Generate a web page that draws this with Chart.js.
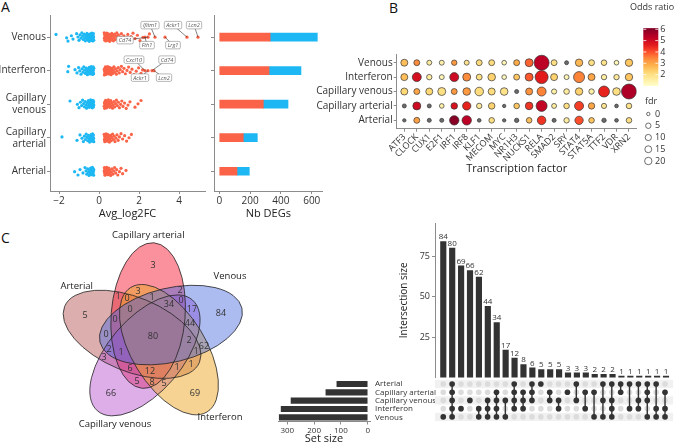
<!DOCTYPE html>
<html>
<head>
<meta charset="utf-8">
<script src="https://cdn.jsdelivr.net/npm/chart.js@4.4.1/dist/chart.umd.min.js"></script>
<style>
  html, body { margin: 0; padding: 0; background: #fff; }
  body { position: relative; width: 677px; height: 445px; overflow: hidden; font-family: 'Open Sans', sans-serif; }
  canvas { position: absolute; }
  .tag { position: absolute; font-size: 14px; color: #111; line-height: 1; }
</style>
</head>
<body>
<div class="tag" style="left:1px;top:0px">A</div>
<div class="tag" style="left:389px;top:1px">B</div>
<div class="tag" style="left:1px;top:231px">C</div>
<script>
// ---------- panel A : DE genes ----------
const deRows = ['Venous', 'Interferon', 'Capillary venous', 'Capillary arterial', 'Arterial'];
const deRowLabels = ['Venous', 'Interferon', ['Capillary', 'venous'], ['Capillary', 'arterial'], 'Arterial'];
const nbUp = [330, 323, 286, 156, 115];
const nbDown = [306, 207, 160, 91, 80];

const fcUpVenous = [0.26,0.27,0.28,0.29,0.3,0.31,0.32,0.33,0.34,0.35,0.36,0.37,0.38,0.39,0.41,0.42,0.44,0.45,0.47,0.49,0.51,0.53,0.55,0.57,0.59,0.61,0.64,0.66,0.69,0.72,0.75,0.78,0.81,0.85,0.89,0.93,0.97,1.02,1.07,1.12,1.18,1.24,1.3,1.37,1.44,1.52,1.6,1.7,1.8,1.92,2.05,2.2,2.52];
const fcDownVenous = [-0.26,-0.27,-0.28,-0.29,-0.3,-0.31,-0.32,-0.33,-0.34,-0.35,-0.36,-0.37,-0.39,-0.4,-0.42,-0.43,-0.45,-0.47,-0.49,-0.51,-0.53,-0.55,-0.57,-0.6,-0.62,-0.65,-0.68,-0.71,-0.74,-0.78,-0.82,-0.86,-0.9,-0.95,-1.0,-1.05,-1.12,-1.3,-1.38,-1.55,-1.62,-2.15];
const fcUpInterferon = [0.26,0.27,0.28,0.29,0.3,0.31,0.32,0.33,0.34,0.35,0.37,0.38,0.4,0.41,0.43,0.45,0.47,0.49,0.51,0.53,0.55,0.58,0.6,0.63,0.66,0.69,0.72,0.75,0.79,0.83,0.87,0.91,0.96,1.01,1.06,1.12,1.18,1.25,1.32,1.4,1.48,1.56,1.65,1.75,1.86,1.98,2.1,2.18];
const fcDownInterferon = [-0.26,-0.27,-0.28,-0.29,-0.3,-0.31,-0.32,-0.33,-0.35,-0.36,-0.38,-0.39,-0.41,-0.43,-0.45,-0.47,-0.49,-0.52,-0.55,-0.58,-0.61,-0.64,-0.68,-0.72,-0.76,-0.8,-0.85,-0.9,-0.96,-1.02,-1.1,-1.2,-1.52,-1.56];
const fcUpCapVenous = [0.26,0.27,0.28,0.29,0.3,0.31,0.32,0.33,0.35,0.36,0.38,0.39,0.41,0.43,0.45,0.47,0.49,0.51,0.54,0.56,0.59,0.62,0.65,0.68,0.71,0.75,0.79,0.83,0.87,0.92,0.97,1.02,1.08,1.14,1.2,1.28,1.36,1.45,1.55,1.8,1.95,2.1];
const fcDownCapVenous = [-0.26,-0.27,-0.28,-0.29,-0.3,-0.31,-0.32,-0.34,-0.35,-0.37,-0.38,-0.4,-0.42,-0.44,-0.46,-0.48,-0.5,-0.53,-0.56,-0.59,-0.62,-0.65,-0.69,-0.73,-0.77,-0.82,-0.87,-0.93,-1.0,-1.08,-1.45];
const fcUpCapArterial = [0.26,0.27,0.28,0.29,0.3,0.31,0.33,0.34,0.36,0.37,0.39,0.41,0.43,0.45,0.47,0.5,0.52,0.55,0.58,0.61,0.64,0.68,0.72,0.76,0.8,0.85,0.9,0.96,1.02,1.1,1.18,1.28,1.38,1.5,1.62];
const fcDownCapArterial = [-0.26,-0.27,-0.28,-0.29,-0.3,-0.32,-0.33,-0.35,-0.36,-0.38,-0.4,-0.42,-0.44,-0.47,-0.5,-0.53,-0.56,-0.6,-0.64,-0.68,-0.73,-0.78,-0.85,-0.95,-1.1,-1.85];
const fcUpArterial = [0.26,0.27,0.28,0.29,0.3,0.31,0.33,0.34,0.36,0.38,0.4,0.42,0.44,0.46,0.49,0.52,0.55,0.58,0.61,0.65,0.69,0.73,0.78,0.83,0.88,0.94,1.02,1.1,1.18,1.35];
const fcDownArterial = [-0.26,-0.27,-0.28,-0.29,-0.3,-0.31,-0.33,-0.34,-0.36,-0.38,-0.4,-0.42,-0.44,-0.47,-0.5,-0.53,-0.57,-0.61,-0.65,-0.7,-0.8,-0.95,-1.05,-1.22];

// labelled genes (row index into deRows)
const geneNames = ['Ifitm1', 'Cd74', 'Fth1', 'Lrg1', 'Ackr1', 'Lcn2', 'Cxcl10', 'Ackr1', 'Cd74', 'Lcn2'];
const geneRows = [0, 0, 0, 0, 0, 0, 1, 1, 1, 1];
const geneFC = [2.8, 2.45, 2.3, 3.3, 4.4, 4.95, 2.3, 2.45, 2.65, 2.75];
// label box offsets in px (layout only)
const geneBoxOffset = [[-5, -12], [-23, 3], [2, 8], [8, 8], [-14, -12], [-4, -12], [-11, -11], [-8, 7], [15, -11], [10, 7]];

// ---------- panel B : transcription factors ----------
const tfNames = ['ATF3','CLOCK','CUX1','E2F1','IRF1','IRF8','KLF1','MECOM','MYC','NR1H3','NUCKS1','RELA','SMAD2','SRY','STAT4','STAT5A','TTF2','VDR','XRN2'];
const tfRows = ['Venous', 'Interferon', 'Capillary venous', 'Capillary arterial', 'Arterial'];
const oddsVenous = [2.6,3.4,1.6,1.5,3.2,1.9,2.1,2.1,1.3,2.9,3.8,5.3,2.0,null,2.7,2.0,1.9,1.3,2.5];
const fdrVenous = [16,8,3,3,5,3,8,8,2,8,26,166,8,0.5,20,8,6,2,20];
const oddsInterferon = [2.6,4.9,1.6,1.3,5.0,3.4,2.0,2.3,1.2,2.5,3.9,4.6,2.3,1.3,3.5,3.0,1.6,1.7,2.5];
const fdrInterferon = [16,39,5,3,39,26,8,22,2,8,26,114,16,3,71,16,5,5,20];
const oddsCapVenous = [2.2,3.0,2.2,2.0,3.2,3.2,2.1,2.1,1.9,null,3.3,3.5,1.5,1.6,2.3,1.5,4.5,2.0,5.5];
const fdrCapVenous = [16,8,16,26,8,22,33,16,22,0.5,16,39,4,6,20,5,71,22,166];
const oddsCapArterial = [null,5.0,null,1.5,4.8,4.5,1.7,2.3,null,2.5,4.3,5.2,1.6,2.0,4.2,3.0,1.8,null,1.9];
const fdrCapArterial = [0.5,26,0.5,2,12,30,5,12,0,6,22,71,3,6,39,11,4,0.1,6];
const oddsArterial = [null,3.1,null,null,6.0,5.3,null,2.0,null,null,2.6,4.3,null,1.6,4.0,2.5,null,null,2.0];
const fdrArterial = [0,8,0.5,0.5,44,44,0.1,6,0,1.2,6,33,0.5,5,30,6,1.2,0.1,6];
const oddsTicks = [2, 3, 4, 5, 6];
const fdrTicks = [0, 5, 10, 15, 20];

// ---------- panel C : overlaps of up-regulated genes ----------
const setNames = ['Arterial', 'Capillary arterial', 'Capillary venous', 'Interferon', 'Venous'];
const setSizes = [115, 156, 286, 323, 330];
const interCounts = [84, 80, 69, 66, 62, 44, 34, 17, 12, 8, 6, 5, 5, 5, 3, 3, 3, 2, 2, 2, 1, 1, 1, 1, 1, 1];
const interSets = [[4],[0,1,2,3,4],[3],[2],[3,4],[2,3,4],[1,2,3,4],[2,4],[0,1,2,3],[1,2,3],[0,1,2],[0],[1,2],[2,3],[1],[0,2],[1,3],[1,4],[0,2,4],[0,2,3,4],[0,1],[0,3],[0,2,3],[0,1,2,4],[0,3,4],[1,3,4]];

// ---------- common ----------
Chart.defaults.font.family = "'Open Sans', sans-serif";
Chart.defaults.color = '#333';
Chart.defaults.animation = false;
Chart.defaults.responsive = false;
Chart.defaults.plugins.legend.display = false;
Chart.defaults.plugins.tooltip.enabled = false;

const axisGray = '#8c8c8c';
const upRed = '#FA6347';
const downBlue = '#1DB8F4';

function makeCtx(left, top, w, h) {
    let c = document.createElement('canvas');
    c.width = w; c.height = h;
    c.style.left = left + 'px'; c.style.top = top + 'px';
    c.style.width = w + 'px'; c.style.height = h + 'px';
    document.body.appendChild(c);
    return c.getContext('2d');
}
function fixedTicks(values) {
    return scale => { scale.ticks = values.map(v => ({ value: v })); };
}
function axisStyle(extra) {
    let base = {
        grid: { drawOnChartArea: false, color: axisGray, tickLength: 3, offset: false },
        border: { color: axisGray },
        ticks: { font: { size: 10 }, color: '#333', padding: 1, autoSkip: false }
    };
    if (extra.ticks) base.ticks = Object.assign(base.ticks, extra.ticks);
    let out = Object.assign({}, extra);
    out.ticks = base.ticks;
    out.grid = base.grid; out.border = base.border; out.offset = false;
    return out;
}

// ===== A1 : strip plot =====
function jitter(i, r) {
    return (((i * 0.6180339887 + r * 0.37) % 1) - 0.5) * 0.26;
}
const upLists = [fcUpVenous, fcUpInterferon, fcUpCapVenous, fcUpCapArterial, fcUpArterial];
const downLists = [fcDownVenous, fcDownInterferon, fcDownCapVenous, fcDownCapArterial, fcDownArterial];
let stripUp = [], stripDown = [];
upLists.forEach((arr, r) => arr.forEach((v, i) => stripUp.push({ x: v, y: r + 1 + jitter(i, r) })));
downLists.forEach((arr, r) => arr.forEach((v, i) => stripDown.push({ x: v, y: r + 1 + jitter(i + 3, r) })));
let genePoints = geneFC.map((v, i) => ({ x: v, y: geneRows[i] + 1 }));

const geneLabelPlugin = {
    id: 'geneLabels',
    afterDatasetsDraw(chart) {
        const { ctx, scales: { x, y } } = chart;
        ctx.save();
        ctx.font = 'italic 5.5px "Open Sans"';
        geneNames.forEach((g, i) => {
            const px = x.getPixelForValue(geneFC[i]), py = y.getPixelForValue(geneRows[i] + 1);
            const bx = px + geneBoxOffset[i][0], by = py + geneBoxOffset[i][1];
            const w = ctx.measureText(g).width + 4, h = 7.5;
            ctx.strokeStyle = '#333'; ctx.lineWidth = 0.6;
            ctx.beginPath(); ctx.moveTo(px, py); ctx.lineTo(bx, by); ctx.stroke();
            ctx.fillStyle = '#fff'; ctx.strokeStyle = '#888';
            ctx.beginPath(); ctx.roundRect(bx - w / 2, by - h / 2, w, h, 1.5); ctx.fill(); ctx.stroke();
            ctx.fillStyle = '#555'; ctx.textAlign = 'center'; ctx.textBaseline = 'middle';
            ctx.fillText(g, bx, by + 0.3);
        });
        ctx.restore();
    }
};

new Chart(makeCtx(0, 0, 210, 220), {
    type: 'scatter',
    data: {
        datasets: [
            { data: stripDown, backgroundColor: downBlue, pointRadius: 1.6, borderWidth: 0 },
            { data: stripUp, backgroundColor: upRed, pointRadius: 1.6, borderWidth: 0 },
            { data: genePoints, backgroundColor: upRed, pointRadius: 1.6, borderWidth: 0 }
        ]
    },
    options: {
        layout: { padding: { top: 15, right: 5, left: 0, bottom: 0 } },
        scales: {
            x: axisStyle({
                type: 'linear', min: -2.45, max: 5.3,
                afterBuildTicks: fixedTicks([-2, 0, 2, 4]),
                ticks: { callback: v => (v < 0 ? '\u2212' + Math.abs(v) : v) },
                afterFit: s => { s.height = 29; },
                title: { display: true, text: 'Avg_log2FC', font: { size: 11 }, color: '#222', padding: 0 }
            }),
            y: axisStyle({
                type: 'linear', min: 0.34, max: 5.59, reverse: true,
                afterBuildTicks: fixedTicks([1, 2, 3, 4, 5]),
                ticks: { callback: v => deRowLabels[v - 1] },
                afterFit: s => { s.width = 50; }
            })
        }
    },
    plugins: [geneLabelPlugin]
});

// ===== A2 : number of DEGs =====
new Chart(makeCtx(200, 0, 130, 220), {
    type: 'bar',
    data: {
        datasets: [
            { data: nbUp.map((v, i) => ({ x: v, y: i + 1 })), backgroundColor: upRed, barThickness: 8 },
            { data: nbDown.map((v, i) => ({ x: v, y: i + 1 })), backgroundColor: downBlue, barThickness: 8 }
        ]
    },
    options: {
        indexAxis: 'y',
        layout: { padding: { top: 15, right: 7.3 } },
        scales: {
            x: axisStyle({
                type: 'linear', min: -34, max: 671, stacked: true,
                afterBuildTicks: fixedTicks([0, 200, 400, 600]),
                afterFit: s => { s.height = 29; },
                title: { display: true, text: 'Nb DEGs', font: { size: 11 }, color: '#222', padding: 0 }
            }),
            y: axisStyle({
                type: 'linear', min: 0.34, max: 5.59, reverse: true, stacked: true,
                afterBuildTicks: fixedTicks([1, 2, 3, 4, 5]),
                ticks: { callback: () => '', padding: 0 },
                afterFit: s => { s.width = 14; }
            })
        }
    }
});

// ===== B : TF dot plot =====
const orStops = [[1, '#ffffcc'], [1.6, '#ffeda0'], [2.2, '#fed976'], [2.8, '#feb24c'], [3.4, '#fd8d3c'], [4.0, '#fc4e2a'], [4.6, '#e31a1c'], [5.3, '#bd0026'], [6.1, '#800026']];
function hexRgb(h) { return [1, 3, 5].map(k => parseInt(h.substr(k, 2), 16)); }
function orColor(v) {
    if (v === null) return '#6b6b6b';
    if (v <= orStops[0][0]) return orStops[0][1];
    for (let k = 1; k < orStops.length; k++) {
        if (v <= orStops[k][0]) {
            const t = (v - orStops[k - 1][0]) / (orStops[k][0] - orStops[k - 1][0]);
            const a = hexRgb(orStops[k - 1][1]), b = hexRgb(orStops[k][1]);
            return 'rgb(' + a.map((c, j) => Math.round(c + (b[j] - c) * t)).join(',') + ')';
        }
    }
    return orStops[orStops.length - 1][1];
}
function fdrRadius(v) { return 1.7 + 0.45 * Math.sqrt(v); }

const oddsRows = [oddsVenous, oddsInterferon, oddsCapVenous, oddsCapArterial, oddsArterial];
const fdrRows = [fdrVenous, fdrInterferon, fdrCapVenous, fdrCapArterial, fdrArterial];
let tfPoints = [], tfColors = [], tfRadii = [];
oddsRows.forEach((row, r) => row.forEach((v, c) => {
    tfPoints.push({ x: c + 1, y: r + 1 });
    tfColors.push(orColor(v));
    tfRadii.push(fdrRadius(fdrRows[r][c]));
}));

const tfLegendPlugin = {
    id: 'tfLegend',
    afterDraw(chart) {
        const ctx = chart.ctx;
        ctx.save();
        // colour bar
        const bx = 643.3 - 290, bw = 15, yOf = v => 86 - (v - 1) * 11.35;
        const g = ctx.createLinearGradient(0, yOf(1), 0, yOf(6.1));
        for (let k = 0; k <= 20; k++) {
            const v = 1 + k * 5.1 / 20;
            g.addColorStop(k / 20, orColor(v));
        }
        ctx.fillStyle = g;
        ctx.fillRect(bx, yOf(6.1), bw, yOf(1) - yOf(6.1));
        ctx.font = '9px "Open Sans"'; ctx.fillStyle = '#333';
        ctx.textAlign = 'left'; ctx.textBaseline = 'middle';
        ctx.fillText('Odds ratio', 630 - 290, 7);
        oddsTicks.forEach(t => {
            ctx.strokeStyle = '#fff'; ctx.lineWidth = 0.8;
            ctx.beginPath(); ctx.moveTo(bx, yOf(t)); ctx.lineTo(bx + 3, yOf(t)); ctx.moveTo(bx + bw - 3, yOf(t)); ctx.lineTo(bx + bw, yOf(t)); ctx.stroke();
            ctx.fillText(String(t), bx + bw + 2, yOf(t));
        });
        // size legend
        ctx.fillText('fdr', 645 - 290, 101);
        fdrTicks.forEach((t, k) => {
            const cy = 114 + k * 11.75;
            ctx.beginPath(); ctx.arc(648.3 - 290, cy, fdrRadius(t), 0, Math.PI * 2);
            ctx.fillStyle = '#fff'; ctx.fill();
            ctx.strokeStyle = '#333'; ctx.lineWidth = 0.7; ctx.stroke();
            ctx.fillStyle = '#333';
            ctx.fillText(String(t), 655 - 290, cy);
        });
        ctx.restore();
    }
};

new Chart(makeCtx(290, 0, 387, 175), {
    type: 'scatter',
    data: {
        datasets: [{
            data: tfPoints, backgroundColor: tfColors, pointRadius: tfRadii,
            borderColor: '#333', borderWidth: 0.7
        }]
    },
    options: {
        layout: { padding: { top: 54, right: 40.4 } },
        scales: {
            x: axisStyle({
                type: 'linear', min: 0.39, max: 19.61,
                afterBuildTicks: fixedTicks(tfNames.map((n, i) => i + 1)),
                ticks: { callback: v => tfNames[v - 1], font: { size: 9 }, minRotation: 45, maxRotation: 45, padding: 0 },
                afterFit: s => { s.height = 46.3; },
                title: { display: true, text: 'Transcription factor', font: { size: 11 }, color: '#222', padding: 0 }
            }),
            y: axisStyle({
                type: 'linear', min: 0.396, max: 5.58, reverse: true,
                afterBuildTicks: fixedTicks([1, 2, 3, 4, 5]),
                ticks: { callback: v => tfRows[v - 1] },
                afterFit: s => { s.width = 106.7; }
            })
        }
    },
    plugins: [tfLegendPlugin]
});

// ===== C1 : Venn diagram =====
const vennGeom = { d: 21, a: 73, b: 37, phi0: -31.4, theta0: -13.5 };
const vennSlot = [2, 1, 3, 4, 0];
const vennFill = ['rgba(172,62,62,0.42)', 'rgba(245,35,60,0.5)', 'rgba(180,75,205,0.45)', 'rgba(238,168,40,0.5)', 'rgba(70,105,222,0.45)'];
const vennCatPos = [[-76.3, -49.3], [-4.7, -101], [-38, 88], [67, 81.7], [77, -60]];

function ellipseOf(s) {
    const k = vennSlot[s], rad = Math.PI / 180;
    const phi = (vennGeom.phi0 - 72 * k) * rad, th = (vennGeom.theta0 - 72 * k) * rad;
    return { cx: vennGeom.d * Math.cos(phi), cy: vennGeom.d * Math.sin(phi), th: th, a: vennGeom.a, b: vennGeom.b };
}
const ellipses = setNames.map((n, s) => ellipseOf(s));
function inside(e, x, y) {
    const dx = x - e.cx, dy = y - e.cy;
    const u = dx * Math.cos(e.th) + dy * Math.sin(e.th);
    const v = -dx * Math.sin(e.th) + dy * Math.cos(e.th);
    return (u * u) / (e.a * e.a) + (v * v) / (e.b * e.b) <= 1;
}
// most interior point of every region (simple chamfer distance map)
function regionAnchors() {
    const N = 241, off = 120;
    let mem = new Int16Array(N * N), dist = new Float32Array(N * N);
    for (let j = 0; j < N; j++) for (let i = 0; i < N; i++) {
        let m = 0;
        ellipses.forEach((e, k) => { if (inside(e, i - off, j - off)) m |= 1 << k; });
        mem[j * N + i] = m;
    }
    for (let j = 0; j < N; j++) for (let i = 0; i < N; i++) {
        const m = mem[j * N + i];
        let edge = i === 0 || j === 0 || i === N - 1 || j === N - 1;
        if (!edge) edge = mem[j * N + i - 1] !== m || mem[j * N + i + 1] !== m || mem[(j - 1) * N + i] !== m || mem[(j + 1) * N + i] !== m;
        dist[j * N + i] = edge ? 0.5 : 1e9;
    }
    const D = Math.SQRT2;
    for (let j = 1; j < N - 1; j++) for (let i = 1; i < N - 1; i++) {
        const p = j * N + i;
        dist[p] = Math.min(dist[p], dist[p - 1] + 1, dist[p - N] + 1, dist[p - N - 1] + D, dist[p - N + 1] + D);
    }
    for (let j = N - 2; j > 0; j--) for (let i = N - 2; i > 0; i--) {
        const p = j * N + i;
        dist[p] = Math.min(dist[p], dist[p + 1] + 1, dist[p + N] + 1, dist[p + N + 1] + D, dist[p + N - 1] + D);
    }
    let best = {};
    for (let p = 0; p < N * N; p++) {
        const m = mem[p];
        if (!m) continue;
        if (!best[m] || dist[p] > best[m].d) best[m] = { d: dist[p], x: (p % N) - off, y: Math.floor(p / N) - off };
    }
    return best;
}
const anchors = regionAnchors();
let countByMask = {};
interSets.forEach((sets, i) => { countByMask[sets.reduce((m, s) => m | (1 << s), 0)] = interCounts[i]; });
let vennPoints = [], vennValues = [];
for (let m = 1; m < 32; m++) {
    if (!anchors[m]) continue;
    vennPoints.push({ x: anchors[m].x, y: anchors[m].y });
    vennValues.push(countByMask[m] || 0);
}

const vennPlugin = {
    id: 'venn',
    beforeDatasetsDraw(chart) {
        const { ctx, scales: { x, y } } = chart;
        const sx = x.getPixelForValue(1) - x.getPixelForValue(0);
        ctx.save();
        ellipses.forEach((e, s) => {
            ctx.beginPath();
            ctx.ellipse(x.getPixelForValue(e.cx), y.getPixelForValue(e.cy), e.a * sx, e.b * sx, e.th, 0, Math.PI * 2);
            ctx.fillStyle = vennFill[s]; ctx.fill();
        });
        ellipses.forEach(e => {
            ctx.beginPath();
            ctx.ellipse(x.getPixelForValue(e.cx), y.getPixelForValue(e.cy), e.a * sx, e.b * sx, e.th, 0, Math.PI * 2);
            ctx.strokeStyle = '#222'; ctx.lineWidth = 0.8; ctx.stroke();
        });
        ctx.restore();
    },
    afterDatasetsDraw(chart) {
        const { ctx, scales: { x, y } } = chart;
        ctx.save();
        ctx.textAlign = 'center'; ctx.textBaseline = 'middle';
        ctx.fillStyle = '#333'; ctx.font = '9px "Open Sans"';
        vennPoints.forEach((p, i) => ctx.fillText(String(vennValues[i]), x.getPixelForValue(p.x), y.getPixelForValue(p.y)));
        ctx.font = '9.5px "Open Sans"'; ctx.fillStyle = '#222';
        setNames.forEach((n, s) => ctx.fillText(n, x.getPixelForValue(vennCatPos[s][0]), y.getPixelForValue(vennCatPos[s][1])));
        ctx.restore();
    }
};

new Chart(makeCtx(0, 225, 270, 220), {
    type: 'scatter',
    data: { datasets: [{ data: vennPoints, pointRadius: 0 }] },
    options: {
        layout: { padding: 0 },
        scales: {
            x: { type: 'linear', display: false, min: -153, max: 117 },
            y: { type: 'linear', display: false, min: -111, max: 109, reverse: true }
        }
    },
    plugins: [vennPlugin]
});

// ===== C2 : UpSet intersection bars =====
const barLabelPlugin = {
    id: 'barLabels',
    afterDatasetsDraw(chart) {
        const ctx = chart.ctx;
        ctx.save();
        ctx.font = '8px "Open Sans"'; ctx.fillStyle = '#333';
        ctx.textAlign = 'center'; ctx.textBaseline = 'bottom';
        chart.getDatasetMeta(0).data.forEach((bar, i) => ctx.fillText(String(interCounts[i]), bar.x, bar.y - 0.5));
        ctx.restore();
    }
};
new Chart(makeCtx(398, 215, 279, 170), {
    type: 'bar',
    data: { datasets: [{ data: interCounts.map((c, i) => ({ x: i + 1, y: c })), backgroundColor: '#333', barThickness: 5.5 }] },
    options: {
        layout: { padding: { top: 8, right: 3, bottom: 3 } },
        scales: {
            x: { type: 'linear', display: false, offset: false, min: 0.07, max: 26.9 },
            y: axisStyle({
                type: 'linear', min: 0, max: 95.4,
                afterBuildTicks: fixedTicks([25, 50, 75]),
                ticks: { font: { size: 9 }, padding: 2 },
                afterFit: s => { s.width = 37; },
                title: { display: true, text: 'Intersection size', font: { size: 10 }, color: '#222', padding: 0 }
            })
        }
    },
    plugins: [barLabelPlugin]
});

// ===== C3 : set sizes (set names written at the right of the bars) =====
const setLabelPlugin = {
    id: 'setLabels',
    afterDraw(chart) {
        const { ctx, chartArea: a, scales: { y } } = chart;
        ctx.save();
        ctx.font = '8px "Open Sans"'; ctx.fillStyle = '#333';
        ctx.textAlign = 'left'; ctx.textBaseline = 'middle';
        setNames.forEach((n, s) => ctx.fillText(n, a.right + 5, y.getPixelForValue(s + 1)));
        ctx.restore();
    }
};
new Chart(makeCtx(270, 375, 172, 70), {
    type: 'bar',
    data: { datasets: [{ data: setSizes.map((v, i) => ({ x: v, y: i + 1 })), backgroundColor: '#333', barThickness: 5.5 }] },
    options: {
        indexAxis: 'y',
        layout: { padding: { top: 5, left: 8, right: 72 } },
        scales: {
            x: axisStyle({
                type: 'linear', min: -8.6, max: 334.7, reverse: true,
                afterBuildTicks: fixedTicks([0, 100, 200, 300]),
                ticks: { font: { size: 8 } },
                afterFit: s => { s.height = 23.5; },
                title: { display: true, text: 'Set size', font: { size: 11 }, color: '#222', padding: 0 }
            }),
            y: { type: 'linear', display: false, offset: false, min: 0.52, max: 5.5, reverse: true }
        }
    },
    plugins: [setLabelPlugin]
});

// ===== C4 : UpSet matrix =====
let bgDots = [];
interCounts.forEach((c, i) => setNames.forEach((n, s) => bgDots.push({ x: i + 1, y: s + 1 })));
let matrixSets = interSets.map((sets, i) => ({
    data: sets.slice().sort((a, b) => a - b).map(s => ({ x: i + 1, y: s + 1 })),
    showLine: true, borderColor: '#333', borderWidth: 1.4, order: 0,
    pointRadius: 2.8, pointBackgroundColor: '#333', pointBorderColor: '#333', pointBorderWidth: 0
}));
const shadePlugin = {
    id: 'shade',
    beforeDatasetsDraw(chart) {
        const { ctx, chartArea: a, scales: { y } } = chart;
        ctx.save();
        ctx.fillStyle = '#f1f1f1';
        [1, 3, 5].forEach(r => {
            const y0 = y.getPixelForValue(r - 0.5), y1 = y.getPixelForValue(r + 0.5);
            ctx.fillRect(a.left, y0, a.right - a.left, y1 - y0);
        });
        ctx.restore();
    }
};
// background dots go last with a higher order so they are painted underneath
new Chart(makeCtx(430, 375, 247, 50), {
    type: 'scatter',
    data: { datasets: matrixSets.concat([{ data: bgDots, order: 5, pointRadius: 2.8, backgroundColor: '#dcdcdc', pointBorderWidth: 0, borderWidth: 0 }]) },
    options: {
        layout: { padding: { top: 5, left: 5, right: 3, bottom: 3.5 } },
        scales: {
            x: { type: 'linear', display: false, min: 0.07, max: 26.9 },
            y: { type: 'linear', display: false, min: 0.52, max: 5.5, reverse: true }
        }
    },
    plugins: [shadePlugin]
});
</script>
</body>
</html>
